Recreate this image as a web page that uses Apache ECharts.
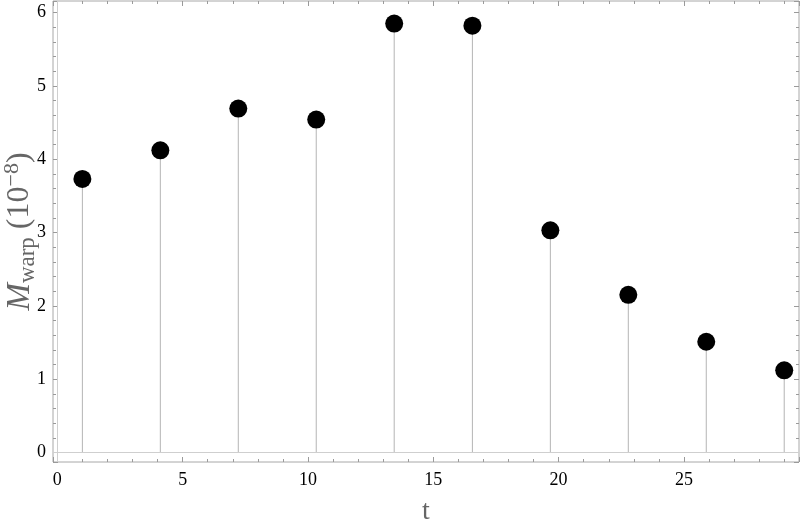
<!DOCTYPE html>
<html>
<head>
<meta charset="utf-8">
<script src="https://cdn.jsdelivr.net/npm/echarts@6/dist/echarts.min.js"></script>
<style>
html,body{margin:0;padding:0;background:#fff;}
#chart{width:800px;height:525px;}
</style>
</head>
<body>
<div id="chart"></div>
<script>
// Data
const tValues = [1, 4.11, 7.22, 10.33, 13.44, 16.56, 19.67, 22.78, 25.89, 29];
const mValues = [3.73, 4.12, 4.69, 4.54, 5.85, 5.82, 3.03, 2.15, 1.51, 1.12];
const xRange = [-0.172, 29.59];
const yRange = [-0.13, 6.157];
const xMajor = 5, xMinor = 1;
const yMajor = 1, yMinor = 0.2;

const serif = "Liberation Serif";
const tickColor = '#9a9a9a';

function isMult(v, step) {
  const r = v / step;
  return Math.abs(r - Math.round(r)) < 1e-6;
}

function makeAxis(kind, pos, step, len, withLabels, extra) {
  const range = kind === 'x' ? xRange : yRange;
  const a = {
    type: 'value',
    position: pos,
    min: range[0],
    max: range[1],
    minInterval: step,
    maxInterval: step,
    splitNumber: Math.round((range[1] - range[0]) / step),
    axisLine: { show: false, onZero: false },
    splitLine: { show: false },
    axisTick: { show: true, inside: true, length: len, lineStyle: { color: tickColor, width: 1 } },
    axisLabel: withLabels ? {
      show: true,
      color: '#000',
      fontFamily: serif,
      fontSize: 18,
      margin: kind === 'x' ? 9 : 7,
      showMinLabel: true,
      showMaxLabel: true,
      formatter: function (v) { return isMult(v, step) ? String(Math.round(v)) : ''; }
    } : { show: false }
  };
  return Object.assign(a, extra || {});
}

const stemData = tValues.map((t, i) => [t, mValues[i]]);

const option = {
  backgroundColor: '#fff',
  animation: false,
  textStyle: { fontFamily: serif },
  grid: {
    left: 53, right: 1, top: 1, bottom: 63,
    show: true,
    borderColor: '#a8a8a8',
    borderWidth: 1,
    backgroundColor: 'transparent',
    containLabel: false,
    outerBoundsMode: 'none'
  },
  xAxis: [
    makeAxis('x', 'bottom', xMajor, 5, true, {
      name: 't',
      nameLocation: 'middle',
      nameGap: 36,
      nameMoveOverlap: false,
      nameTextStyle: { fontFamily: serif, fontSize: 28, color: '#666' }
    }),
    makeAxis('x', 'bottom', xMinor, 3, false),
    makeAxis('x', 'top', xMajor, 5, false),
    makeAxis('x', 'top', xMinor, 3, false)
  ],
  yAxis: [
    makeAxis('y', 'left', yMajor, 5, true, {
      name: '{m|M}{s|warp}{n| (10}{p|−8}{n|)}',
      nameLocation: 'middle',
      nameRotate: 90,
      nameGap: 14,
      nameMoveOverlap: false,
      nameTextStyle: {
        color: '#666',
        fontFamily: serif,
        rich: {
          m: { fontFamily: serif, fontStyle: 'italic', fontSize: 33, color: '#666', lineHeight: 38, verticalAlign: 'middle' },
          s: { fontFamily: serif, fontSize: 23, color: '#666', lineHeight: 23, verticalAlign: 'bottom' },
          n: { fontFamily: serif, fontSize: 32, color: '#666', lineHeight: 38, verticalAlign: 'middle' },
          p: { fontFamily: serif, fontSize: 22, color: '#666', lineHeight: 22, verticalAlign: 'top' }
        }
      }
    }),
    makeAxis('y', 'left', yMinor, 3, false),
    makeAxis('y', 'right', yMajor, 5, false),
    makeAxis('y', 'right', yMinor, 3, false)
  ],
  series: [
    {
      type: 'bar',
      xAxisIndex: 0,
      yAxisIndex: 0,
      data: stemData,
      barWidth: 1,
      itemStyle: { color: '#b4b4b4' },
      silent: true,
      z: 2
    },
    {
      type: 'scatter',
      xAxisIndex: 0,
      yAxisIndex: 0,
      data: stemData,
      symbol: 'circle',
      symbolSize: 18,
      itemStyle: { color: '#000', opacity: 1 },
      silent: true,
      z: 5,
      markLine: {
        silent: true,
        symbol: 'none',
        label: { show: false },
        lineStyle: { color: '#cfcfcf', width: 1, type: 'solid' },
        data: [{ yAxis: 0 }, { xAxis: 0 }]
      }
    }
  ]
};

const chart = echarts.init(document.getElementById('chart'), null, { renderer: 'canvas' });
chart.setOption(option);
</script>
</body>
</html>
